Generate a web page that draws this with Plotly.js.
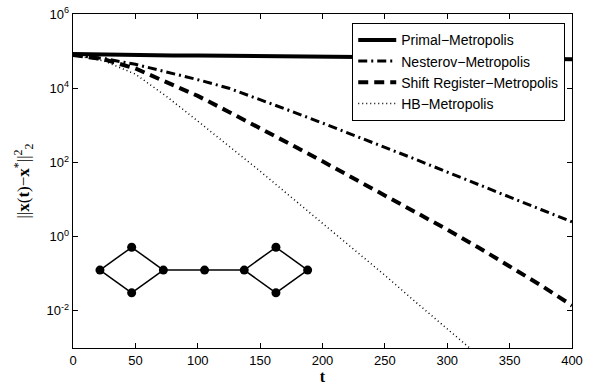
<!DOCTYPE html>
<html>
<head>
<meta charset="utf-8">
<script src="https://cdn.plot.ly/plotly-3.0.1.min.js"></script>
<style>html,body{margin:0;padding:0;background:#fff}#chart{width:603px;height:387px}</style>
</head>
<body>
<div id="chart"></div>
<script>
// ---- data ----
const tPrimal = [0, 20, 40, 60, 80, 100, 118, 120, 150, 200, 226, 250, 300, 350, 400];
const primal  = [8.3e4, 8.0e4, 7.8e4, 7.7e4, 7.6e4, 7.6e4, 7.5e4, 7.1e4, 7.0e4, 6.9e4, 6.8e4, 6.8e4, 6.6e4, 6.3e4, 6.0e4];

const tSeries  = [0, 25, 50, 75, 100, 125, 150, 175, 200, 225, 250, 275, 300, 325, 350, 375, 400];
const nesterov = [7.9e4, 6.3e4, 4.4e4, 2.8e4, 1.7e4, 1.0e4, 5.0e3, 2.4e3, 1.15e3, 550, 263, 120, 55, 25, 11.7, 5.4, 2.5];
const shiftReg = [7.9e4, 6.0e4, 3.4e4, 1.5e4, 6.2e3, 2.3e3, 850, 300, 107, 37, 13.2, 4.6, 1.55, 0.51, 0.16, 0.049, 0.014];

const tHB = [0, 25, 50, 75, 100, 125, 150, 175, 200, 225, 250, 275, 300, 325];
const hb  = [7.9e4, 5.4e4, 2.4e4, 6.0e3, 1.3e3, 280, 58, 11.5, 2.3, 0.47, 0.091, 0.017, 0.0033, 6.3e-4];

const seriesNames = ["Primal\u2212Metropolis", "Nesterov\u2212Metropolis", "Shift Register\u2212Metropolis", "HB\u2212Metropolis"];

const xTickVals = [0, 50, 100, 150, 200, 250, 300, 350, 400];
const yTickVals = [1e-2, 1e0, 1e2, 1e4, 1e6];
const yTickText = ["10<sup>-2</sup>", "10<sup>0</sup>", "10<sup>2</sup>", "10<sup>4</sup>", "10<sup>6</sup>"];

// inset graph (network topology)
const nodeX = [0, 1, 1, 2, 3.3, 4.55, 5.55, 5.55, 6.55];
const nodeY = [0, 0.72, -0.72, 0, 0, 0, 0.72, -0.72, 0];
const edges = [[0,1],[0,2],[1,3],[2,3],[3,4],[4,5],[5,6],[5,7],[6,8],[7,8]];

// ---- build traces ----
const edgeX = [], edgeY = [];
edges.forEach(([a, b]) => { edgeX.push(nodeX[a], nodeX[b], null); edgeY.push(nodeY[a], nodeY[b], null); });

const traces = [
  {x: tPrimal, y: primal, name: seriesNames[0], mode: 'lines', line: {color: '#000', width: 4}},
  {x: tSeries, y: nesterov, name: seriesNames[1], mode: 'lines', line: {color: '#000', width: 3, dash: '9px,4px,2px,4px'}},
  {x: tSeries, y: shiftReg, name: seriesNames[2], mode: 'lines', line: {color: '#000', width: 4, dash: '10px,6px'}},
  {x: tHB, y: hb, name: seriesNames[3], mode: 'lines', line: {color: '#000', width: 1.5, dash: '1px,3px'}},
  {x: edgeX, y: edgeY, xaxis: 'x2', yaxis: 'y2', mode: 'lines', line: {color: '#000', width: 1.5}, showlegend: false, hoverinfo: 'skip'},
  {x: nodeX, y: nodeY, xaxis: 'x2', yaxis: 'y2', mode: 'markers', marker: {color: '#000', size: 9}, showlegend: false, hoverinfo: 'skip'}
];

const axisFont = {family: 'Liberation Sans, Arial, sans-serif', size: 13, color: '#000'};

const layout = {
  width: 603, height: 387,
  margin: {l: 73, r: 31, t: 14, b: 39},
  paper_bgcolor: '#fff', plot_bgcolor: '#fff',
  showlegend: true,
  font: axisFont,
  xaxis: {
    range: [0, 400], tickvals: xTickVals, ticks: 'inside', ticklen: 5, tickcolor: '#000',
    showline: true, linecolor: '#000', linewidth: 1.3, mirror: 'ticks', showgrid: false, zeroline: false,
    tickfont: axisFont,
    title: {text: '<b>t</b>', font: {family: 'Liberation Serif, Times New Roman, serif', size: 16, color: '#000'}, standoff: 3}
  },
  yaxis: {
    type: 'log', range: [-3, 6], tickvals: yTickVals, ticktext: yTickText,
    ticks: 'inside', ticklen: 5, tickcolor: '#000',
    showline: true, linecolor: '#000', linewidth: 1.3, mirror: 'ticks', showgrid: false, zeroline: false,
    tickfont: axisFont,
    title: {text: '||<b>x</b>(<b>t</b>)\u2212<b>x</b><sup>*</sup>||<sup>2</sup><sub>2</sub>', font: {family: 'Liberation Serif, Times New Roman, serif', size: 17, color: '#000'}, standoff: 12}
  },
  xaxis2: {domain: [0.034, 0.491], range: [-0.315, 6.877], anchor: 'y2', visible: false, fixedrange: true},
  yaxis2: {domain: [0.1437, 0.323], range: [-0.946, 0.946], anchor: 'x2', visible: false, fixedrange: true},
  legend: {
    x: 0.559, y: 0.973, xanchor: 'left', yanchor: 'top',
    bgcolor: '#fff', bordercolor: '#000', borderwidth: 1.3,
    font: {family: 'Liberation Sans, Arial, sans-serif', size: 14, color: '#000'},
    itemwidth: 38,
    tracegroupgap: 0
  }
};

Plotly.newPlot('chart', traces, layout, {displayModeBar: false, staticPlot: true});
</script>
</body>
</html>
